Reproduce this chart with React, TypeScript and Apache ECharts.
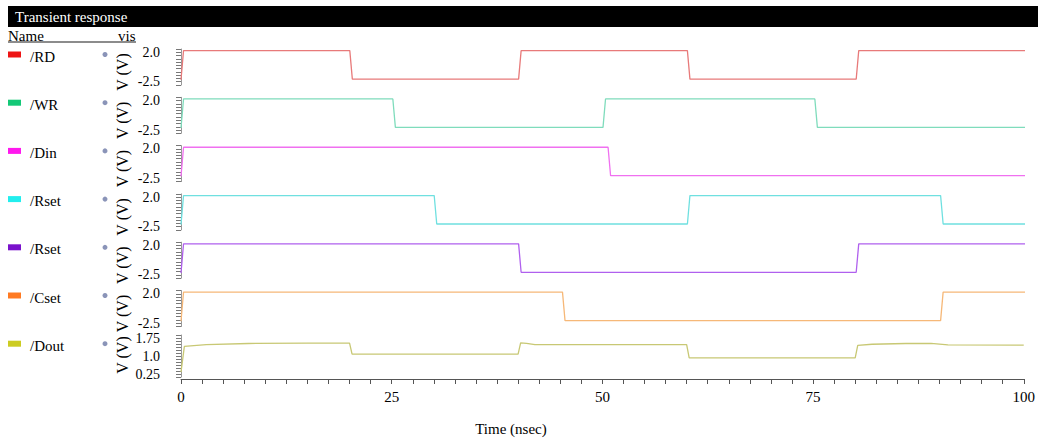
import React, { useEffect, useRef } from "react";
import * as echarts from "echarts";

// ---- data ----
const signalNames = ["/RD", "/WR", "/Din", "/Rset", "/Rset", "/Cset", "/Dout"];
const legendColors = ["#ee1515", "#14c877", "#ff18ee", "#22eeee", "#7a12cc", "#ff7a22", "#cccc22"];
const lineColors = ["#e87a7a", "#7fdcbc", "#f070f0", "#6fe0e0", "#b060ee", "#f6b878", "#c8c874"];

const rdData = [[0, -2.2], [0.3, 2.25], [20, 2.25], [20.3, -2.1], [40, -2.1], [40.3, 2.25], [60, 2.25], [60.3, -2.1], [80, -2.1], [80.3, 2.25], [100, 2.25]];
const wrData = [[0, -2.2], [0.3, 2.25], [25.1, 2.25], [25.4, -2.1], [50, -2.1], [50.3, 2.25], [75.1, 2.25], [75.4, -2.1], [100, -2.1]];
const dinData = [[0, -2.2], [0.3, 2.25], [50.6, 2.25], [50.9, -2.1], [100, -2.1]];
const rsetData = [[0, -2.2], [0.3, 2.25], [30, 2.25], [30.3, -2.1], [60, -2.1], [60.3, 2.25], [90, 2.25], [90.3, -2.1], [100, -2.1]];
const rset2Data = [[0, -2.2], [0.3, 2.25], [40, 2.25], [40.3, -2.1], [80, -2.1], [80.3, 2.25], [100, 2.25]];
const csetData = [[0, -2.2], [0.3, 2.25], [45.2, 2.25], [45.5, -2.1], [90, -2.1], [90.3, 2.25], [100, 2.25]];
const doutData = [[0, 0.33], [0.4, 1.4], [3, 1.47], [8, 1.52], [15, 1.54], [20, 1.54], [20.3, 1.08], [40, 1.08], [40.3, 1.55], [41, 1.53], [42, 1.47], [60, 1.47], [60.3, 0.92], [80, 0.92], [80.3, 1.44], [82, 1.49], [86, 1.52], [89, 1.53], [91, 1.46], [100, 1.45]];

const digitalTicks = [2.0, -2.5];
const doutTicks = [0.25, 1.0, 1.75];
const xTicks = [0, 25, 50, 75, 100];

const allData = [rdData, wrData, dinData, rsetData, rset2Data, csetData, doutData];

const FONT = "'Liberation Serif', 'Times New Roman', serif";

export default function App() {
  const ref = useRef<HTMLDivElement>(null);
  useEffect(() => {
    const chart = echarts.init(ref.current!, null, { renderer: "svg" });
    const step = 48.3;
    const tops = [0, 1, 2, 3, 4, 5].map((i) => 49 + step * i);
    tops.push(335);
    const heights = [36, 36, 36, 36, 36, 36, 42];

    const grids = tops.map((t, i) => ({ left: 181, width: 844, top: t, height: heights[i] }));
    const xAxes = tops.map((_, i) => {
      const last = i === 6;
      return {
        type: "value",
        gridIndex: i,
        min: 0,
        max: 100,
        interval: 25,
        show: last,
        offset: 2,
        axisLine: { show: true, lineStyle: { color: "#555", width: 1 } },
        axisTick: { show: true, length: 5, lineStyle: { color: "#555" } },
        minorTick: { show: true, splitNumber: 10, length: 5, lineStyle: { color: "#555" } },
        splitLine: { show: false },
        axisLabel: {
          margin: 10,
          fontFamily: FONT,
          fontSize: 15,
          color: "#000",
          formatter: (v: number) => (xTicks.includes(v) ? String(v) : ""),
        },
      };
    });
    const yAxes = tops.map((_, i) => {
      const last = i === 6;
      return {
        type: "value",
        gridIndex: i,
        min: last ? 0.125 : -3,
        max: last ? 1.875 : 2.5,
        interval: last ? 0.125 : 0.5,
        offset: 6,
        axisLine: { show: true, lineStyle: { color: "#999", width: 1 } },
        axisTick: { show: true, length: 5, lineStyle: { color: "#777" } },
        splitLine: { show: false },
        axisLabel: {
          margin: 15,
          fontFamily: FONT,
          fontSize: 14,
          lineHeight: 12,
          color: "#000",
          showMinLabel: true,
          showMaxLabel: true,
          formatter: (v: number) => {
            if (last) {
              const hit = doutTicks.find((t) => Math.abs(t - v) < 1e-6);
              return hit === undefined ? "" : hit === 1 ? "1.0" : String(hit);
            }
            const hit = digitalTicks.find((t) => Math.abs(t - v) < 1e-6);
            return hit === undefined ? "" : hit.toFixed(1);
          },
        },
      };
    });
    const series = allData.map((d, i) => ({
      type: "line",
      xAxisIndex: i,
      yAxisIndex: i,
      data: d,
      showSymbol: false,
      lineStyle: { color: lineColors[i], width: 1.3 },
      itemStyle: { color: lineColors[i] },
    }));

    const graphics: any[] = [
      { type: "rect", shape: { x: 8, y: 6, width: 1030, height: 21 }, style: { fill: "#000" } },
      { type: "text", x: 15, y: 16.5, style: { text: "Transient response", fill: "#fff", font: `15px ${FONT}`, textVerticalAlign: "middle" } },
      { type: "text", x: 8, y: 36, style: { text: "Name", fill: "#000", font: `15px ${FONT}`, textVerticalAlign: "middle" } },
      { type: "text", x: 118, y: 36, style: { text: "vis", fill: "#000", font: `15px ${FONT}`, textVerticalAlign: "middle" } },
      { type: "line", shape: { x1: 8, y1: 42, x2: 136, y2: 42 }, style: { stroke: "#666", lineWidth: 1.5 } },
      { type: "text", x: 511, y: 429, style: { text: "Time (nsec)", fill: "#000", font: `15px ${FONT}`, textAlign: "center", textVerticalAlign: "middle" } },
    ];
    signalNames.forEach((name, i) => {
      const cy = 54.5 + 48.2 * i;
      graphics.push({ type: "rect", shape: { x: 8, y: cy - 3, width: 13, height: 6 }, style: { fill: legendColors[i] } });
      graphics.push({ type: "text", x: 30, y: cy + 2, style: { text: name, fill: "#000", font: `15px ${FONT}`, textVerticalAlign: "middle" } });
      graphics.push({ type: "circle", shape: { cx: 105, cy: cy, r: 2.5 }, style: { fill: "#8a94b8" } });
      const ly = i === 6 ? 355 : 72 + step * i;
      graphics.push({
        type: "text",
        x: 122,
        y: ly,
        rotation: Math.PI / 2,
        style: { text: "V (V)", fill: "#000", font: `16px ${FONT}`, textAlign: "center", textVerticalAlign: "middle" },
      });
    });

    chart.setOption({
      animation: false,
      backgroundColor: "#fff",
      grid: grids,
      xAxis: xAxes,
      yAxis: yAxes,
      series,
      graphic: graphics,
    });
    return () => chart.dispose();
  }, []);
  return <div ref={ref} style={{ position: "fixed", left: 0, top: 0, width: 1038, height: 440, background: "#fff" }} />;
}
